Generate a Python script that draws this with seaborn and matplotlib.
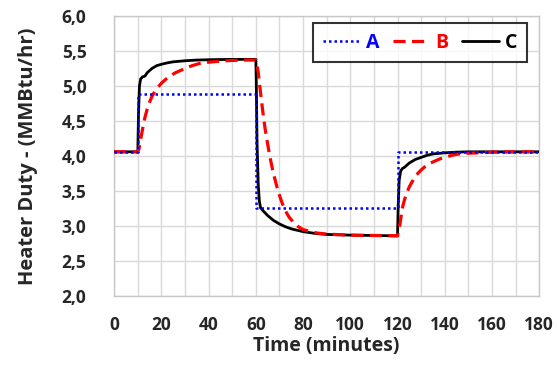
import matplotlib
matplotlib.use("Agg")
import matplotlib.pyplot as plt
from matplotlib.ticker import FuncFormatter, MultipleLocator
import pandas as pd
import seaborn as sns

# Series (time in minutes, duty in MMBtu/hr)
time_a = [0, 10, 10, 60, 60, 120, 120, 180]
duty_a = [4.06, 4.06, 4.88, 4.88, 3.26, 3.26, 4.06, 4.06]

time_b = [0, 10, 10.5, 11, 12, 13, 14, 15, 16, 17, 18, 19, 20, 22, 24, 26, 28, 30,
          33, 36, 40, 45, 50, 55, 60,
          61, 62, 63, 64, 65, 66, 67, 68, 69, 70, 71, 72, 73, 74, 76, 78, 80,
          83, 86, 90, 100, 110, 120,
          121, 122, 123, 124, 125, 126, 127, 128, 130, 132, 134, 136, 138, 140,
          143, 146, 150, 160, 170, 180]
duty_b = [4.06, 4.06, 4.1, 4.2, 4.38, 4.55, 4.67, 4.77, 4.85, 4.91, 4.96, 5.0, 5.04,
          5.1, 5.15, 5.19, 5.22, 5.25, 5.29, 5.32, 5.34, 5.355, 5.365, 5.37, 5.37,
          5.2, 4.9, 4.62, 4.37, 4.17, 3.98, 3.82, 3.68, 3.55, 3.44, 3.34, 3.26,
          3.19, 3.13, 3.05, 2.99, 2.95, 2.92, 2.9, 2.885, 2.87, 2.865, 2.86,
          3.02, 3.25, 3.38, 3.48, 3.56, 3.62, 3.68, 3.73, 3.8, 3.86, 3.9, 3.93,
          3.96, 3.98, 4.01, 4.03, 4.04, 4.055, 4.06, 4.06]

time_c = [0, 10, 10.3, 10.7, 11.2, 12, 13, 14, 16, 18, 20, 22.5, 25, 30, 35, 40,
          50, 60,
          60.2, 60.5, 61, 61.5, 62, 63, 65, 67.5, 70, 72.5, 75, 77.5, 80, 85, 90,
          100, 110, 120,
          120.3, 120.7, 121.3, 122, 123, 125, 127.5, 130, 132.5, 135, 140, 145,
          150, 180]
duty_c = [4.06, 4.06, 4.6, 5.0, 5.1, 5.13, 5.14, 5.19, 5.25, 5.29, 5.31, 5.33,
          5.345, 5.36, 5.37, 5.375, 5.38, 5.38,
          5.0, 4.2, 3.6, 3.35, 3.26, 3.22, 3.15, 3.08, 3.03, 2.99, 2.96, 2.94,
          2.92, 2.895, 2.88, 2.87, 2.865, 2.86,
          3.3, 3.65, 3.78, 3.82, 3.84, 3.9, 3.95, 3.98, 4.01, 4.03, 4.045, 4.055,
          4.06, 4.06]

series_names = ["A", "B", "C"]
series_colors = ["#0000ff", "#ff0000", "#000000"]

sns.set_style("white")
plt.rcParams["font.family"] = ["Open Sans", "DejaVu Sans"]
plt.rcParams["font.weight"] = "bold"

fig, ax = plt.subplots(figsize=(5.57, 3.71), dpi=100)
fig.subplots_adjust(left=0.205, right=0.968, top=0.957, bottom=0.202)

df_a = pd.DataFrame({"t": time_a, "q": duty_a})
df_b = pd.DataFrame({"t": time_b, "q": duty_b})
df_c = pd.DataFrame({"t": time_c, "q": duty_c})

sns.lineplot(data=df_a, x="t", y="q", ax=ax, estimator=None, sort=False,
             color=series_colors[0], lw=1.8, label=series_names[0], zorder=5)
sns.lineplot(data=df_b, x="t", y="q", ax=ax, estimator=None, sort=False,
             color=series_colors[1], lw=2.3, label=series_names[1], zorder=4)
sns.lineplot(data=df_c, x="t", y="q", ax=ax, estimator=None, sort=False,
             color=series_colors[2], lw=2.0, label=series_names[2], zorder=3)
ax.lines[0].set_linestyle((0, (1, 1.2)))
ax.lines[1].set_linestyle((0, (3.8, 2)))

ax.set_xlim(0, 180)
ax.set_ylim(2.0, 6.0)
ax.xaxis.set_major_locator(MultipleLocator(20))
ax.xaxis.set_minor_locator(MultipleLocator(10))
ax.yaxis.set_major_locator(MultipleLocator(0.5))
ax.yaxis.set_major_formatter(FuncFormatter(lambda v, p: f"{v:.1f}".replace(".", ",")))

ax.grid(True, which="both", axis="x", color="#d9d9d9", lw=1)
ax.grid(True, which="major", axis="y", color="#d9d9d9", lw=1)
ax.set_axisbelow(True)
for s in ax.spines.values():
    s.set_color("#c8c8c8")
    s.set_linewidth(1)

ax.tick_params(axis="both", which="both", length=0, labelsize=12.5)
ax.tick_params(axis="x", pad=14)
ax.tick_params(axis="y", pad=20)
for lbl in ax.get_xticklabels() + ax.get_yticklabels():
    lbl.set_fontweight("bold")

ax.set_xlabel("Time (minutes)", fontsize=14, fontweight="bold", labelpad=2)
ax.set_ylabel("Heater Duty - (MMBtu/hr)", fontsize=14.5, fontweight="bold", labelpad=17)

leg = ax.legend(loc="upper right", ncol=3, bbox_to_anchor=(0.972, 0.975),
                borderaxespad=0, fontsize=14, frameon=True, fancybox=False,
                handlelength=1.9, columnspacing=0.7, handletextpad=0.3,
                borderpad=0.5)
leg.get_frame().set_edgecolor("black")
leg.get_frame().set_linewidth(1.5)
for txt, col in zip(leg.get_texts(), series_colors):
    txt.set_color(col)
    txt.set_fontweight("bold")

fig.savefig("out.png", dpi=100)
